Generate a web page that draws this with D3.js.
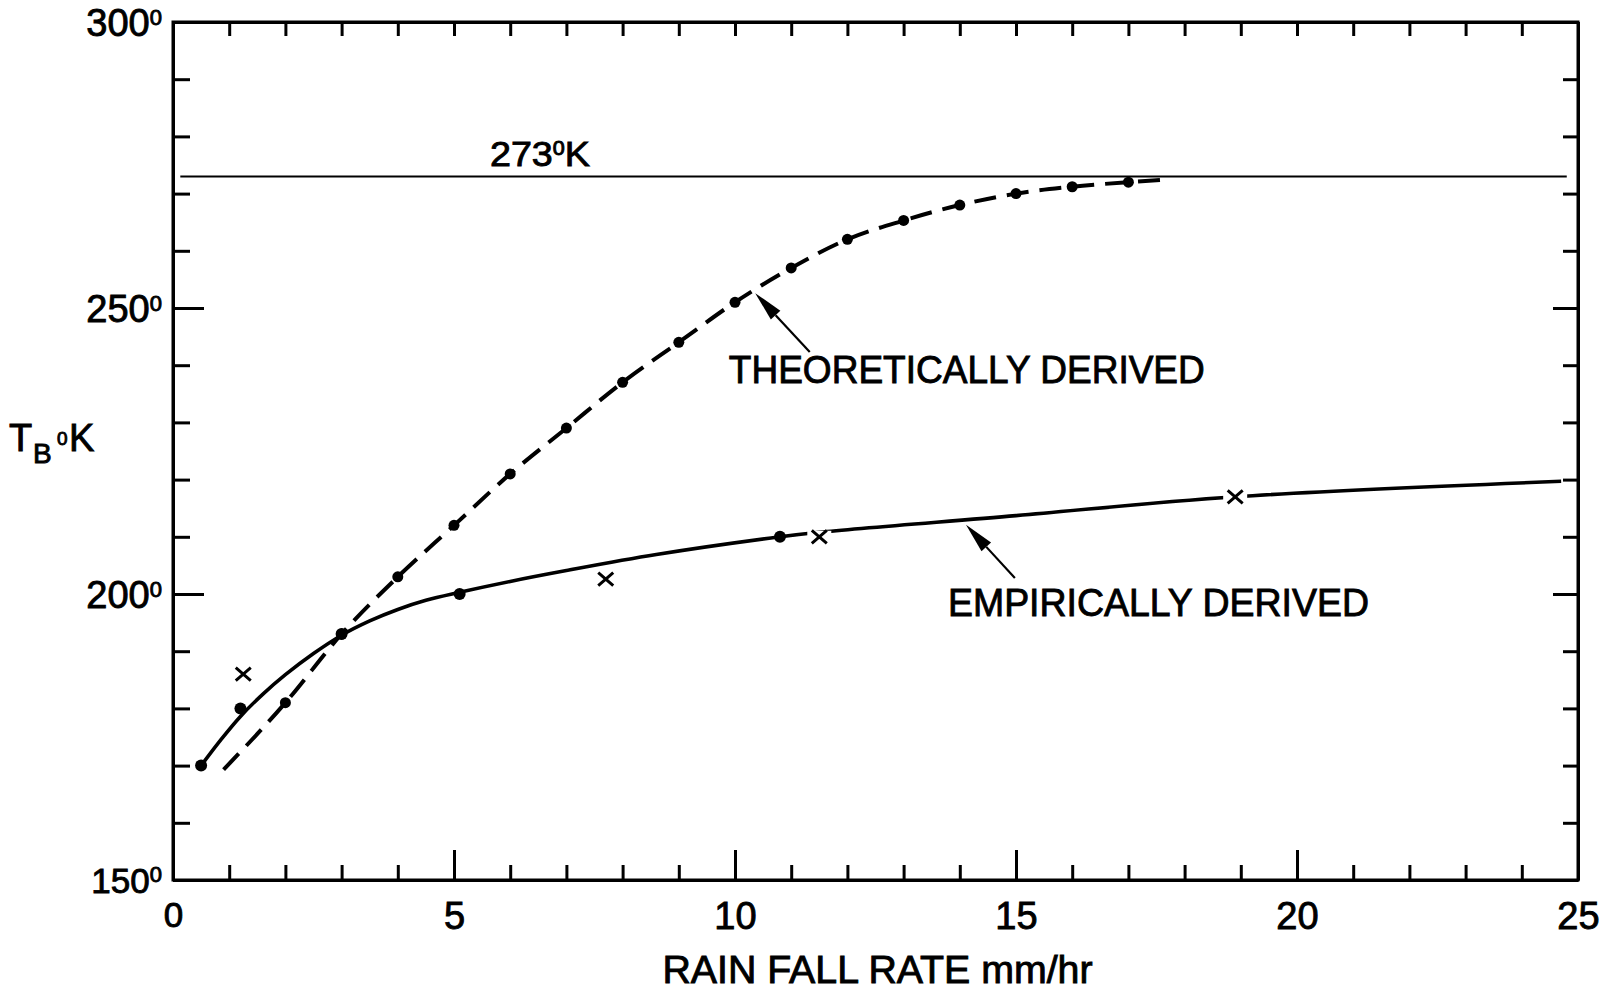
<!DOCTYPE html>
<html>
<head>
<meta charset="utf-8">
<script src="https://cdn.jsdelivr.net/npm/d3@7"></script>
<style>
  html, body { margin: 0; padding: 0; background: #fff; }
  svg { display: block; }
  text { font-family: "Liberation Sans", Arial, sans-serif; fill: #000; stroke: #000; stroke-width: 0.9px; }
</style>
</head>
<body>
<svg id="chart" width="1602" height="992"></svg>
<script>
// ---- data ----
const xTicks = d3.range(0, 26);          // rain rate ticks, mm/hr
const xLabels = [0, 5, 10, 15, 20, 25];
const yTicks = d3.range(150, 301, 10);   // brightness temp ticks
const yLabels = [150, 200, 250, 300];

// theoretically derived: plotted points and the dashed curve through them
const theoPoints = [
  [2, 181], [3, 193], [4, 203], [5, 212], [6, 221], [7, 229], [8, 237],
  [9, 244], [10, 251], [11, 257], [12, 262], [13, 265.3], [14, 268],
  [15, 270], [16, 271.2], [17, 272]
];
const theoCurve = [
  [0.9, 169.3], [2, 181], [3, 193], [4, 203], [5, 212], [6, 221], [7, 229],
  [8, 237], [9, 244], [10, 251], [11, 257], [12, 262], [13, 265.3],
  [14, 268], [15, 270], [16, 271.2], [17, 272], [17.6, 272.4]
];

// empirically derived: dots, crosses and the solid curve
const empDots = [[0.5, 170], [1.2, 180], [3, 193], [5.1, 200], [10.8, 210]];
const empCross = [[1.25, 186], [7.7, 202.6], [11.5, 210], [18.9, 217]];
const empCurve = [
  [0.5, 170], [0.85, 174.5], [1.2, 178.6], [1.6, 182.5], [2, 185.9],
  [2.5, 189.6], [3, 192.8], [3.5, 195.3], [4, 197.3], [4.5, 198.9],
  [5.1, 200.3], [6, 202.2], [7, 204.1], [8.6, 206.9], [10.8, 210],
  [11.5, 210.8], [15, 213.7], [18.9, 217], [24.7, 219.7]
];

const freezeLine = 273;
const annotations = [
  { text: "THEORETICALLY DERIVED", tx: 9.89, ty: 236.9, len: 476, from: [11.33, 242.3], to: [10.36, 252.6] },
  { text: "EMPIRICALLY DERIVED", tx: 13.79, ty: 196.2, len: 421, from: [14.98, 202.8], to: [14.11, 212.1] }
];

// ---- layout ----
const svg = d3.select("#chart");
const x = d3.scaleLinear().domain([0, 25]).range([173, 1578]);
const y = d3.scaleLinear().domain([150, 300]).range([880, 22]);

// frame
svg.append("rect")
  .attr("x", x(0)).attr("y", y(300))
  .attr("width", x(25) - x(0)).attr("height", y(150) - y(300))
  .attr("fill", "none").attr("stroke", "#000").attr("stroke-width", 3);

// bottom axis (ticks inward)
const gB = svg.append("g").attr("transform", `translate(0,${y(150)})`)
  .call(d3.axisBottom(x).tickValues(xTicks).tickSizeInner(-15).tickSizeOuter(0).tickPadding(22)
    .tickFormat(d => xLabels.includes(d) ? d : ""));
gB.selectAll(".tick line").attr("y2", d => d % 5 === 0 ? -30 : -15);
// top axis
const gT = svg.append("g").attr("transform", `translate(0,${y(300)})`)
  .call(d3.axisTop(x).tickValues(xTicks).tickSizeInner(-14).tickSizeOuter(0).tickFormat(""));
// left axis
const gL = svg.append("g").attr("transform", `translate(${x(0)},0)`)
  .call(d3.axisLeft(y).tickValues(yTicks).tickSizeInner(-17).tickSizeOuter(0).tickPadding(11)
    .tickFormat(d => yLabels.includes(d) ? d : ""));
gL.selectAll(".tick line").attr("x2", d => d % 50 === 0 ? 31 : 17);
// right axis
const gR = svg.append("g").attr("transform", `translate(${x(25)},0)`)
  .call(d3.axisRight(y).tickValues(yTicks).tickSizeInner(-15).tickSizeOuter(0).tickFormat(""));
gR.selectAll(".tick line").attr("x2", d => d % 50 === 0 ? -25 : -15);

[gB, gT, gL, gR].forEach(g => {
  g.select(".domain").attr("stroke", "#000").attr("stroke-width", 3);
  g.selectAll(".tick line").attr("stroke", "#000").attr("stroke-width", 3);
  g.selectAll("text").attr("font-family", "'Liberation Sans', Arial, sans-serif").attr("fill", "#000");
});
gB.selectAll("text")
  .attr("font-family", d => d === 0 ? "'DejaVu Serif', serif" : "'Liberation Sans', Arial, sans-serif")
  .attr("font-size", d => d === 0 ? 35 : 38);
gL.selectAll(".tick text").each(function(d) {
  const t = d3.select(this);
  if (!yLabels.includes(d)) return;
  t.text(null).attr("dy", "0.36em")
    .attr("font-size", d === 150 ? 35 : 38)
    .attr("font-family", d === 150 ? "'DejaVu Serif', serif" : "'Liberation Sans', Arial, sans-serif");
  t.append("tspan").text(d);
  t.append("tspan").attr("dy", -11).attr("font-size", 22).text("0");
});

// 273 K line
svg.append("line")
  .attr("x1", x(0.13)).attr("x2", x(24.8))
  .attr("y1", y(freezeLine)).attr("y2", y(freezeLine))
  .attr("stroke", "#000").attr("stroke-width", 2);
const fl = svg.append("text").attr("x", x(5.64)).attr("y", y(274.8)).attr("font-size", 35)
  .attr("textLength", 100).attr("lengthAdjust", "spacingAndGlyphs");
fl.append("tspan").text("273");
fl.append("tspan").attr("dy", -11).attr("font-size", 20).text("0");
fl.append("tspan").attr("dy", 11).text("K");

// curves
const tLine = d3.line().x(d => x(d[0])).y(d => y(d[1])).curve(d3.curveMonotoneX);
const eLine = d3.line().x(d => x(d[0])).y(d => y(d[1])).curve(d3.curveCatmullRom.alpha(0.5));
svg.append("path").datum(theoCurve).attr("d", tLine)
  .attr("fill", "none").attr("stroke", "#000").attr("stroke-width", 4)
  .attr("stroke-dasharray", "22,11");
svg.append("path").datum(empCurve).attr("d", eLine)
  .attr("fill", "none").attr("stroke", "#000").attr("stroke-width", 3.6);

// points
svg.selectAll(".tdot").data(theoPoints).enter().append("circle")
  .attr("cx", d => x(d[0])).attr("cy", d => y(d[1])).attr("r", 5.5).attr("fill", "#000");
svg.selectAll(".edot").data(empDots).enter().append("circle")
  .attr("cx", d => x(d[0])).attr("cy", d => y(d[1])).attr("r", 6).attr("fill", "#000");
const cross = svg.selectAll(".cross").data(empCross).enter().append("g")
  .attr("transform", d => `translate(${x(d[0])},${y(d[1])})`);
cross.append("rect").attr("x", -12).attr("y", -6).attr("width", 24).attr("height", 12).attr("fill", "#fff");
cross.append("path").attr("d", "M-7.5,-6.5L7.5,6.5M-7.5,6.5L7.5,-6.5")
  .attr("stroke", "#000").attr("stroke-width", 3).attr("fill", "none");

// annotations
annotations.forEach(a => {
  svg.append("text").attr("x", x(a.tx)).attr("y", y(a.ty))
    .attr("font-size", 39).attr("textLength", a.len).attr("lengthAdjust", "spacingAndGlyphs")
    .text(a.text);
  const x1 = x(a.from[0]), y1 = y(a.from[1]), x2 = x(a.to[0]), y2 = y(a.to[1]);
  const ang = Math.atan2(y2 - y1, x2 - x1);
  const L = 30, W = 6.5;
  const bx = x2 - L * Math.cos(ang), by = y2 - L * Math.sin(ang);
  svg.append("line").attr("x1", x1).attr("y1", y1).attr("x2", bx).attr("y2", by)
    .attr("stroke", "#000").attr("stroke-width", 2.2);
  const px = -Math.sin(ang) * W, py = Math.cos(ang) * W;
  svg.append("path")
    .attr("d", `M${x2},${y2}L${bx + px},${by + py}L${bx - px},${by - py}Z`)
    .attr("fill", "#000");
});

// axis titles
const yt = svg.append("text").attr("font-size", 38);
yt.append("tspan").attr("x", 9).attr("y", 451).text("T");
yt.append("tspan").attr("x", 33).attr("y", 463).attr("font-size", 28).text("B");
yt.append("tspan").attr("x", 57).attr("y", 445).attr("font-size", 19).text("0");
yt.append("tspan").attr("x", 69).attr("y", 451).text("K");

svg.append("text").attr("x", (x(0) + x(25)) / 2 + 2).attr("y", 983)
  .attr("text-anchor", "middle").attr("font-size", 38)
  .attr("textLength", 430).attr("lengthAdjust", "spacingAndGlyphs")
  .text("RAIN FALL RATE mm/hr");
</script>
</body>
</html>
